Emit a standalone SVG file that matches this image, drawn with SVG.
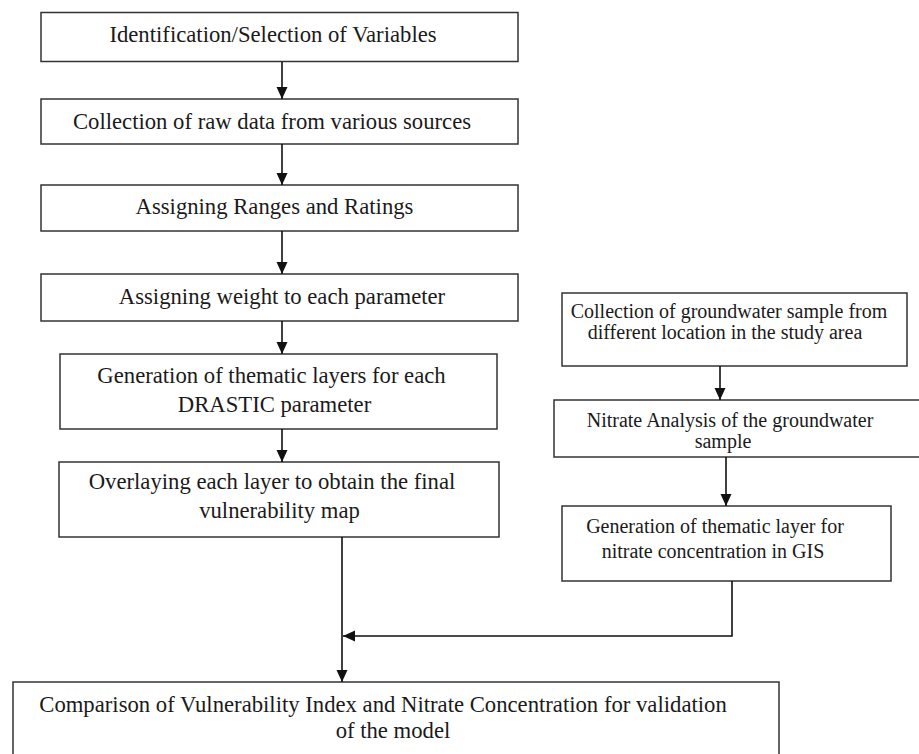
<svg xmlns="http://www.w3.org/2000/svg" width="919" height="754" viewBox="0 0 919 754">
<defs>
<marker id="ah" markerUnits="userSpaceOnUse" markerWidth="12" markerHeight="12" viewBox="0 0 12 12" refX="12" refY="6" orient="auto">
<path d="M0,0.5 L12,6 L0,11.5 Z" fill="#111"/>
</marker>
<style>
.box{fill:#fff;stroke:#333;stroke-width:1.5}
.t{font-family:"Liberation Serif","Times New Roman",serif;font-size:22.7px;fill:#1a1a1a;text-anchor:middle}
.s{font-size:20px}
.c{fill:none;stroke:#111;stroke-width:1.6}
</style>
</defs>
<rect width="919" height="754" fill="#fff"/>
<g id="n1"><rect class="box" x="41" y="12.5" width="477" height="49"/><text class="t" x="273" y="42">Identification/Selection of Variables</text></g>
<g id="n2"><rect class="box" x="41" y="99" width="477" height="45"/><text class="t" x="272" y="129">Collection of raw data from various sources</text></g>
<g id="n3"><rect class="box" x="41" y="185" width="477" height="46"/><text class="t" x="274.5" y="214">Assigning Ranges and Ratings</text></g>
<g id="n4"><rect class="box" x="41" y="274" width="477" height="47"/><text class="t" x="282" y="304">Assigning weight to each parameter</text></g>
<g id="n5"><rect class="box" x="60" y="354" width="437" height="75"/><text class="t" x="271.5" y="383">Generation of thematic layers for each</text><text class="t" x="274.5" y="412">DRASTIC parameter</text></g>
<g id="n6"><rect class="box" x="59" y="462" width="440" height="75"/><text class="t" x="272" y="489">Overlaying each layer to obtain the final</text><text class="t" x="279.5" y="518">vulnerability map</text></g>
<g id="r1"><rect class="box" x="562" y="293" width="345" height="73"/><text class="t s" x="729" y="318">Collection of groundwater sample from</text><text class="t s" x="725" y="339">different location in the study area</text></g>
<g id="r2"><rect class="box" x="554" y="400" width="380" height="57"/><text class="t s" x="730" y="427">Nitrate Analysis of the groundwater</text><text class="t s" x="723" y="448">sample</text></g>
<g id="r3"><rect class="box" x="562" y="506" width="329" height="75"/><text class="t s" x="715" y="533">Generation of thematic layer for</text><text class="t s" x="713" y="558">nitrate concentration in GIS</text></g>
<g id="n7"><rect class="box" x="13" y="682" width="766" height="90"/><text class="t" x="383" y="712">Comparison of Vulnerability Index and Nitrate Concentration for validation</text><text class="t" x="393" y="738">of the model</text></g>
<g id="connectors">
<line class="c" x1="282" y1="62" x2="282" y2="99" marker-end="url(#ah)"/>
<line class="c" x1="282" y1="144" x2="282" y2="185" marker-end="url(#ah)"/>
<line class="c" x1="282" y1="231" x2="282" y2="274" marker-end="url(#ah)"/>
<line class="c" x1="282" y1="321" x2="282" y2="354" marker-end="url(#ah)"/>
<line class="c" x1="282" y1="429" x2="282" y2="462" marker-end="url(#ah)"/>
<line class="c" x1="720" y1="366" x2="720" y2="400" marker-end="url(#ah)"/>
<line class="c" x1="726" y1="457" x2="726" y2="506" marker-end="url(#ah)"/>
<line class="c" x1="342" y1="537" x2="342" y2="682" marker-end="url(#ah)"/>
<polyline class="c" points="732,581 732,636 343,636" marker-end="url(#ah)"/>
</g>
</svg>
